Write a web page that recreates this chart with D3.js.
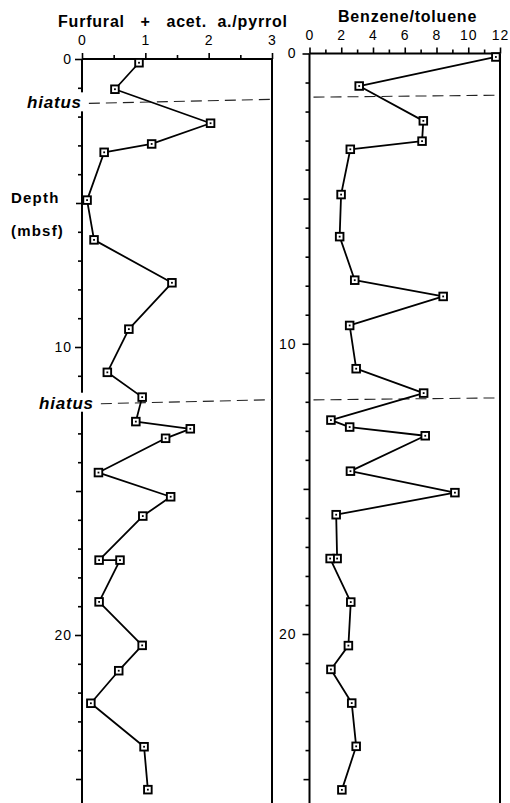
<!DOCTYPE html>
<html>
<head>
<meta charset="utf-8">
<script src="https://cdn.jsdelivr.net/npm/d3@7"></script>
<style>
  html, body { margin: 0; padding: 0; background: #fff; }
  svg { display: block; }
  text { font-family: "Liberation Sans", Arial, Helvetica, sans-serif; fill: #000; }
</style>
</head>
<body>
<svg id="chart" width="510" height="803"></svg>
<script>
// Furfural + acetic acid / pyrrole ratio versus depth (mbsf)
const furfDepth = [0.13, 1.05, 2.23, 2.95, 3.24, 4.90, 6.28, 7.77, 9.38, 10.88, 11.74, 12.59, 12.84,
                   13.17, 14.36, 15.20, 15.87, 17.40, 17.40, 18.85, 20.36, 21.24, 22.37, 23.88, 25.37];
const furfValue = [0.90, 0.52, 2.03, 1.10, 0.35, 0.08, 0.19, 1.42, 0.74, 0.40, 0.95, 0.85, 1.71,
                   1.32, 0.26, 1.40, 0.96, 0.27, 0.60, 0.27, 0.95, 0.58, 0.14, 0.98, 1.04];

// Benzene / toluene ratio versus depth (mbsf)
const btDepth = [0.12, 1.12, 2.32, 3.02, 3.30, 4.86, 6.31, 7.81, 8.37, 9.37, 10.86, 11.70, 12.63,
                 12.87, 13.17, 14.39, 15.13, 15.89, 17.40, 17.40, 18.90, 20.40, 21.22, 22.38, 23.87, 25.37];
const btValue = [11.74, 3.13, 7.17, 7.09, 2.57, 1.99, 1.90, 2.85, 8.42, 2.53, 2.94, 7.19, 1.35,
                 2.53, 7.29, 2.58, 9.16, 1.68, 1.74, 1.30, 2.60, 2.45, 1.35, 2.66, 2.94, 2.04];

// Hiatus depths (mbsf)
const hiatusDepth = [1.47, 11.9];

// Tick values
const furfTicks = [0, 1, 2, 3];
const furfMinor = [0.5, 1.5, 2.5];
const btTicks = [0, 2, 4, 6, 8, 10, 12];
const btMinor = [1, 3, 5, 7, 9, 11];
const depthMajor = [0, 10, 20];
const depthMid = [5, 15, 25];
const depthMinor = d3.range(1, 26).filter(d => d % 5 !== 0);

const svg = d3.select("#chart");
const H = 803;

const panels = [
  {
    depth: furfDepth, value: furfValue,
    x: d3.scaleLinear().domain([0, 3]).range([82, 272]),
    y: d3.scaleLinear().domain([0, 20]).range([59, 635]),
    ticks: furfTicks, minor: furfMinor,
    title: "Furfural   +   acet.  a./pyrrol", titleX: 58, titleY: 27,
    labelPad: 8, depthPad: 3,
    hiatusTilt: 2, hiatusLabelX: [27, 39]
  },
  {
    depth: btDepth, value: btValue,
    x: d3.scaleLinear().domain([0, 12]).range([309.5, 500]),
    y: d3.scaleLinear().domain([0, 20]).range([53.5, 634]),
    ticks: btTicks, minor: btMinor,
    title: "Benzene/toluene", titleX: 338, titleY: 22,
    labelPad: 7.5, depthPad: 6,
    hiatusTilt: 1, hiatusLabelX: null
  }
];

function styleAxis(g) {
  g.attr("font-size", 14).attr("font-family", null);
  g.select(".domain").remove();
  g.selectAll(".tick line").attr("stroke", "#000").attr("stroke-width", 1.6);
  g.selectAll(".tick text")
    .attr("font-size", 14)
    .attr("letter-spacing", 1)
    .attr("fill", "#000");
}

const labelLayer = svg.append("g").attr("class", "labels");

panels.forEach((p, i) => {
  const g = svg.insert("g", ".labels");
  const [x0, x1] = p.x.range();
  const y0 = p.y(0);

  // top value axis: major ticks with labels, minor ticks without
  g.append("g").attr("transform", `translate(0,${y0})`)
    .call(d3.axisTop(p.x).tickValues(p.ticks).tickSize(6).tickPadding(p.labelPad).tickFormat(d3.format("d")))
    .call(styleAxis);
  g.append("g").attr("transform", `translate(0,${y0})`)
    .call(d3.axisTop(p.x).tickValues(p.minor).tickSize(4).tickFormat(""))
    .call(styleAxis);

  // depth axis on the left of each panel
  g.append("g").attr("transform", `translate(${x0},0)`)
    .call(d3.axisLeft(p.y).tickValues(depthMajor).tickSize(7).tickPadding(p.depthPad).tickFormat(d3.format("d")))
    .call(styleAxis);
  g.append("g").attr("transform", `translate(${x0},0)`)
    .call(d3.axisLeft(p.y).tickValues(depthMid).tickSize(6).tickFormat(""))
    .call(styleAxis);
  g.append("g").attr("transform", `translate(${x0},0)`)
    .call(d3.axisLeft(p.y).tickValues(depthMinor).tickSize(4).tickFormat(""))
    .call(styleAxis);

  // panel frame: top, left and right edges
  g.append("line").attr("x1", x0).attr("x2", x1).attr("y1", y0).attr("y2", y0)
    .attr("stroke", "#000").attr("stroke-width", 2);
  g.append("line").attr("x1", x0).attr("x2", x0).attr("y1", y0).attr("y2", H)
    .attr("stroke", "#000").attr("stroke-width", 2);
  g.append("line").attr("x1", x1).attr("x2", x1).attr("y1", y0).attr("y2", H)
    .attr("stroke", "#000").attr("stroke-width", 2);

  // hiatus dashed lines, with the label masking the depth axis
  hiatusDepth.forEach((h, k) => {
    const yh = p.y(h);
    let start = x0 + 4;
    if (p.hiatusLabelX) {
      const lx = p.hiatusLabelX[k];
      const lg = labelLayer.append("g");
      const bg = lg.append("rect").attr("fill", "#fff");
      const t = lg.append("text")
        .attr("x", lx).attr("y", yh + 7)
        .attr("font-size", 17).attr("font-weight", "bold").attr("font-style", "italic")
        .attr("letter-spacing", 0.8)
        .text("hiatus");
      const bb = t.node().getBBox();
      bg.attr("x", bb.x - 1).attr("y", yh - 9).attr("width", bb.width + 4).attr("height", 19);
      start = bb.x + bb.width + 7;
    }
    g.append("line")
      .attr("x1", start).attr("x2", x1)
      .attr("y1", yh + p.hiatusTilt).attr("y2", yh - p.hiatusTilt)
      .attr("stroke", "#222").attr("stroke-width", 1.1)
      .attr("stroke-dasharray", "11,6");
  });

  // data profile
  const pts = p.depth.map((d, j) => ({ d, v: p.value[j] }));
  g.append("path").datum(pts)
    .attr("fill", "none").attr("stroke", "#000").attr("stroke-width", 1.8)
    .attr("stroke-linejoin", "round")
    .attr("d", d3.line().x(e => p.x(e.v)).y(e => p.y(e.d)));

  const m = g.selectAll("g.marker").data(pts).join("g").attr("class", "marker")
    .attr("transform", e => `translate(${p.x(e.v)},${p.y(e.d)})`);
  m.append("rect").attr("x", -3.8).attr("y", -3.8).attr("width", 7.6).attr("height", 7.6)
    .attr("fill", "#fff").attr("stroke", "#000").attr("stroke-width", 1.9);
  m.append("rect").attr("x", -0.9).attr("y", -0.9).attr("width", 1.8).attr("height", 1.8)
    .attr("fill", "#000");

  // panel title
  labelLayer.append("text")
    .attr("x", p.titleX).attr("y", p.titleY)
    .attr("font-size", 16).attr("font-weight", "bold").attr("letter-spacing", 0.8)
    .style("white-space", "pre")
    .text(p.title);
});

// depth axis label
labelLayer.append("text").attr("x", 11).attr("y", 203)
  .attr("font-size", 15).attr("font-weight", "bold").attr("letter-spacing", 1.2)
  .text("Depth");
labelLayer.append("text").attr("x", 11).attr("y", 236)
  .attr("font-size", 15).attr("font-weight", "bold").attr("letter-spacing", 1.2)
  .text("(mbsf)");
</script>
</body>
</html>
